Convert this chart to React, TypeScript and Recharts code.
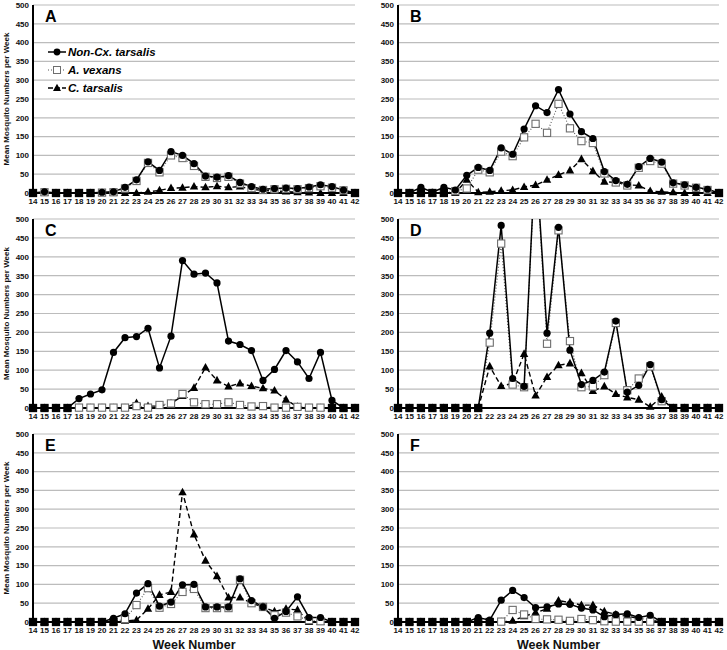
import { LineChart, Line, XAxis, YAxis, CartesianGrid, Legend } from 'recharts';

const FONT = 'Arial, "Liberation Sans", sans-serif';

const weeks = [14, 15, 16, 17, 18, 19, 20, 21, 22, 23, 24, 25, 26, 27, 28, 29, 30, 31, 32, 33, 34, 35, 36, 37, 38, 39, 40, 41, 42];
const yTicks = [0, 50, 100, 150, 200, 250, 300, 350, 400, 450, 500];
const seriesNames = ['Non-Cx. tarsalis', 'A. vexans', 'C. tarsalis'];

// panel A
const aNonCx = [0, 3, 0, 0, 0, 0, 2, 3, 15, 35, 83, 60, 110, 100, 78, 45, 42, 46, 28, 17, 10, 12, 13, 12, 16, 22, 17, 8, 0];
const aVexans = [0, 2, 0, 0, 0, 0, 1, 2, 12, 32, 80, 55, 100, 93, 72, 43, 40, 43, 25, 13, 8, 10, 11, 10, 13, 18, 14, 7, 0];
const aTarsalis = [0, 0, 0, 0, 0, 0, 0, 0, 0, 0, 3, 7, 13, 14, 17, 15, 18, 15, 17, 10, 7, 5, 4, 2, 1, 0, 0, 0, 0];
// panel B
const bNonCx = [0, 0, 15, 2, 15, 8, 47, 68, 60, 120, 103, 170, 232, 214, 275, 210, 163, 145, 57, 33, 23, 70, 92, 82, 27, 22, 15, 10, 0];
const bVexans = [0, 0, 0, 0, 0, 5, 12, 62, 55, 110, 98, 148, 184, 160, 237, 172, 138, 133, 52, 28, 20, 67, 85, 78, 25, 20, 14, 8, 0];
const bTarsalis = [0, 0, 0, 0, 0, 0, 35, 2, 3, 6, 8, 16, 21, 35, 48, 60, 90, 58, 30, 28, 22, 20, 5, 3, 2, 0, 0, 0, 0];
// panel C
const cNonCx = [0, 0, 0, 0, 25, 37, 48, 147, 186, 189, 211, 106, 190, 390, 354, 357, 331, 177, 168, 152, 73, 102, 152, 122, 78, 147, 20, 0, 0];
const cVexans = [0, 0, 0, 0, 1, 1, 1, 1, 1, 5, 1, 8, 12, 37, 15, 10, 10, 15, 8, 4, 5, 1, 1, 3, 1, 1, 0, 0, 0];
const cTarsalis = [0, 0, 0, 0, 0, 0, 0, 0, 0, 13, 5, 5, 12, 32, 53, 107, 73, 57, 65, 58, 52, 46, 22, 3, 0, 0, 0, 0, 0];
// panel D (week 26 runs off the top)
const dNonCx = [0, 0, 0, 0, 0, 0, 0, 0, 198, 483, 78, 57, 680, 198, 478, 153, 62, 73, 95, 230, 42, 60, 115, 22, 0, 0, 0, 0, 0];
const dVexans = [0, 0, 0, 0, 0, 0, 0, 0, 173, 435, 62, 55, 670, 170, 470, 177, 55, 57, 87, 225, 47, 78, 110, 18, 0, 0, 0, 0, 0];
const dTarsalis = [0, 0, 0, 0, 0, 0, 0, 0, 110, 58, 65, 143, 33, 82, 113, 118, 92, 45, 57, 37, 28, 22, 3, 30, 0, 0, 0, 0, 0];
// panel E
const eNonCx = [0, 0, 0, 0, 0, 0, 0, 10, 22, 77, 102, 42, 53, 99, 100, 40, 40, 40, 115, 57, 40, 10, 28, 67, 12, 12, 0, 0, 0];
const eVexans = [0, 0, 0, 0, 0, 0, 0, 0, 8, 45, 90, 38, 48, 80, 88, 37, 37, 37, 112, 50, 40, 18, 25, 15, 5, 2, 0, 0, 0];
const eTarsalis = [0, 0, 0, 0, 0, 0, 0, 0, 3, 5, 35, 72, 80, 345, 233, 163, 122, 65, 65, 50, 40, 28, 35, 32, 0, 0, 0, 0, 0];
// panel F
const fNonCx = [0, 0, 0, 0, 0, 0, 0, 12, 5, 58, 84, 65, 38, 40, 48, 47, 37, 32, 14, 20, 22, 12, 18, 0, 0, 0, 0, 0, 0];
const fVexans = [0, 0, 0, 0, 0, 0, 0, 0, 0, 1, 32, 20, 8, 7, 6, 3, 8, 5, 2, 1, 1, 1, 1, 0, 0, 0, 0, 0, 0];
const fTarsalis = [0, 0, 0, 0, 0, 0, 0, 0, 0, 0, 3, 15, 25, 35, 57, 52, 45, 45, 28, 20, 15, 10, 5, 0, 0, 0, 0, 0, 0];

const makeRows = (nonCx: number[], vexans: number[], tarsalis: number[]) =>
  weeks.map((week, i) => ({ week, nonCx: nonCx[i], vexans: vexans[i], tarsalis: tarsalis[i] }));

const CircleDot = (p: any) => <circle key={p.key} cx={p.cx} cy={p.cy} r={3.6} fill="#000" />;

const SquareDot = (p: any) => {
  const zero = p.value === 0;
  return (
    <rect
      key={p.key}
      x={p.cx - 3.6}
      y={p.cy - 3.6}
      width={7.2}
      height={7.2}
      fill={zero ? '#000' : '#fff'}
      stroke={zero ? '#000' : '#6e6e6e'}
      strokeWidth={1.1}
    />
  );
};

const TriDot = (p: any) => (
  <path key={p.key} d={`M${p.cx},${p.cy - 4.6}L${p.cx + 4.2},${p.cy + 3}L${p.cx - 4.2},${p.cy + 3}Z`} fill="#000" />
);

const renderLegend = () => (
  <div style={{ fontFamily: FONT, fontSize: 11.5, fontWeight: 700, fontStyle: 'italic', color: '#000' }}>
    {seriesNames.map((name, i) => (
      <div key={name} style={{ display: 'flex', alignItems: 'center', height: 18 }}>
        <svg width={20} height={10} style={{ marginRight: 1 }}>
          {i === 0 && <line x1={1} y1={5} x2={19} y2={5} stroke="#000" strokeWidth={1.5} />}
          {i === 0 && <circle cx={10} cy={5} r={3.4} fill="#000" />}
          {i === 1 && <line x1={1} y1={5} x2={19} y2={5} stroke="#555" strokeWidth={1.1} strokeDasharray="1 2" />}
          {i === 1 && <rect x={6.5} y={1.5} width={7} height={7} fill="#fff" stroke="#6e6e6e" strokeWidth={1} />}
          {i === 2 && <line x1={1} y1={5} x2={19} y2={5} stroke="#000" strokeWidth={1.4} strokeDasharray="5 2" />}
          {i === 2 && <path d="M10,0.8L14,8L6,8Z" fill="#000" />}
        </svg>
        <span>{name}</span>
      </div>
    ))}
  </div>
);

interface PanelProps {
  letter: string;
  rows: any[];
  left: number;
  top: number;
  width: number;
  height: number;
  yw: number;
  right: number;
  xh: number;
  yLabel?: boolean;
  legend?: boolean;
  week?: boolean;
}

const Panel = ({ letter, rows, left, top, width, height, yw, right, xh, yLabel, legend, week }: PanelProps) => {
  const plotTop = 5;
  const plotBottom = height - xh;
  const plotMid = (plotTop + plotBottom) / 2;
  const plotW = width - yw - right;
  return (
    <div style={{ position: 'absolute', left, top }}>
      <LineChart width={width} height={height} data={rows} margin={{ top: plotTop, right, left: 0, bottom: 0 }}>
        <CartesianGrid vertical={false} stroke="#bcbcbc" strokeWidth={1.2} />
        <XAxis
          dataKey="week"
          type="number"
          domain={[14, 42]}
          ticks={weeks}
          interval={0}
          height={xh}
          tickSize={0}
          tickMargin={5}
          axisLine={{ stroke: '#000', strokeWidth: 2 }}
          tick={{ fontSize: 8, fontWeight: 700, fill: '#111', fontFamily: FONT }}
        />
        <YAxis
          type="number"
          domain={[0, 500]}
          ticks={yTicks}
          interval={0}
          allowDataOverflow
          width={yw}
          tickSize={0}
          tickMargin={4}
          axisLine={{ stroke: '#000', strokeWidth: 2 }}
          tick={{ fontSize: 8, fontWeight: 700, fill: '#111', fontFamily: FONT }}
        />
        {legend && (
          <Legend
            layout="vertical"
            align="center"
            verticalAlign="middle"
            content={renderLegend}
            wrapperStyle={{ left: 47, top: 43, width: 140 }}
          />
        )}
        <Line
          dataKey="tarsalis"
          name={seriesNames[2]}
          stroke="#000"
          strokeWidth={1.4}
          strokeDasharray="5 3"
          dot={TriDot}
          activeDot={false}
          isAnimationActive={false}
        />
        <Line
          dataKey="vexans"
          name={seriesNames[1]}
          stroke="#555"
          strokeWidth={1.1}
          strokeDasharray="1 2"
          dot={SquareDot}
          activeDot={false}
          isAnimationActive={false}
        />
        <Line
          dataKey="nonCx"
          name={seriesNames[0]}
          stroke="#000"
          strokeWidth={1.5}
          dot={CircleDot}
          activeDot={false}
          isAnimationActive={false}
        />
        <text x={yw + 12} y={plotTop + 17} fontSize={16} fontWeight={700} fontFamily={FONT} fill="#000">
          {letter}
        </text>
        {yLabel && (
          <text
            x={9}
            y={plotMid}
            transform={`rotate(-90 9 ${plotMid})`}
            textAnchor="middle"
            fontSize={8}
            fontWeight={700}
            fontFamily={FONT}
            fill="#111"
          >
            Mean Mosquito Numbers per Week
          </text>
        )}
        {week && (
          <text
            x={yw + plotW / 2}
            y={height - 1.5}
            textAnchor="middle"
            fontSize={12.5}
            fontWeight={700}
            fontFamily={FONT}
            fill="#111"
          >
            Week Number
          </text>
        )}
      </LineChart>
    </div>
  );
};

export default function App() {
  return (
    <div style={{ position: 'absolute', left: 0, top: 0, width: 727, height: 650, background: '#fff', overflow: 'hidden' }}>
      <style>{'.recharts-line-dots{clip-path:none !important;}'}</style>
      <Panel letter="A" rows={makeRows(aNonCx, aVexans, aTarsalis)} left={0} top={0} width={364} height={215} yw={33} right={9} xh={22} yLabel legend />
      <Panel letter="B" rows={makeRows(bNonCx, bVexans, bTarsalis)} left={364} top={0} width={363} height={215} yw={34} right={8} xh={22} />
      <Panel letter="C" rows={makeRows(cNonCx, cVexans, cTarsalis)} left={0} top={214} width={364} height={216} yw={33} right={9} xh={22} yLabel />
      <Panel letter="D" rows={makeRows(dNonCx, dVexans, dTarsalis)} left={364} top={214} width={363} height={216} yw={34} right={8} xh={22} />
      <Panel letter="E" rows={makeRows(eNonCx, eVexans, eTarsalis)} left={0} top={429} width={364} height={221} yw={33} right={9} xh={28} yLabel week />
      <Panel letter="F" rows={makeRows(fNonCx, fVexans, fTarsalis)} left={364} top={429} width={363} height={221} yw={34} right={8} xh={28} week />
    </div>
  );
}
